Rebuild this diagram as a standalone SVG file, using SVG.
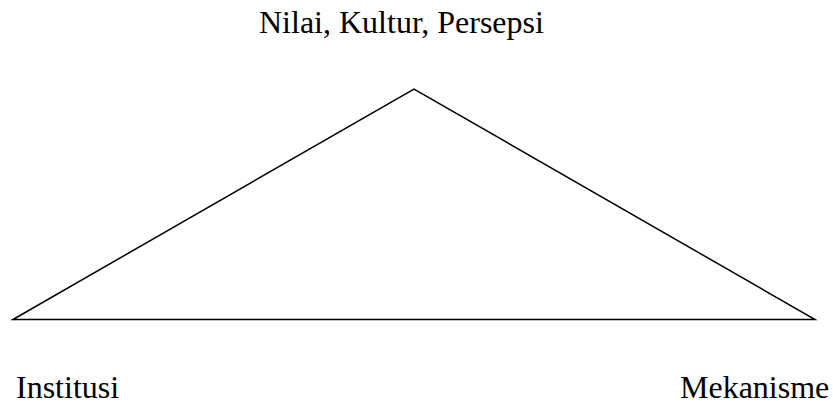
<svg xmlns="http://www.w3.org/2000/svg" width="833" height="405" viewBox="0 0 833 405">
<style>
.lbl{font-family:"Liberation Serif","Times New Roman",serif;font-size:32px;fill:#000}
.edge{fill:none;stroke:#000;stroke-width:1.5;stroke-linejoin:miter}
</style>
<rect width="833" height="405" fill="#fff"/>
<g id="connectors">
<polygon class="edge" points="13,319.5 414,89 815,319.5"/>
</g>
<g id="node-top"><text class="lbl" x="259" y="33">Nilai, Kultur, Persepsi</text></g>
<g id="node-left"><text class="lbl" x="16" y="398">Institusi</text></g>
<g id="node-right"><text class="lbl" x="680" y="398">Mekanisme</text></g>
</svg>
